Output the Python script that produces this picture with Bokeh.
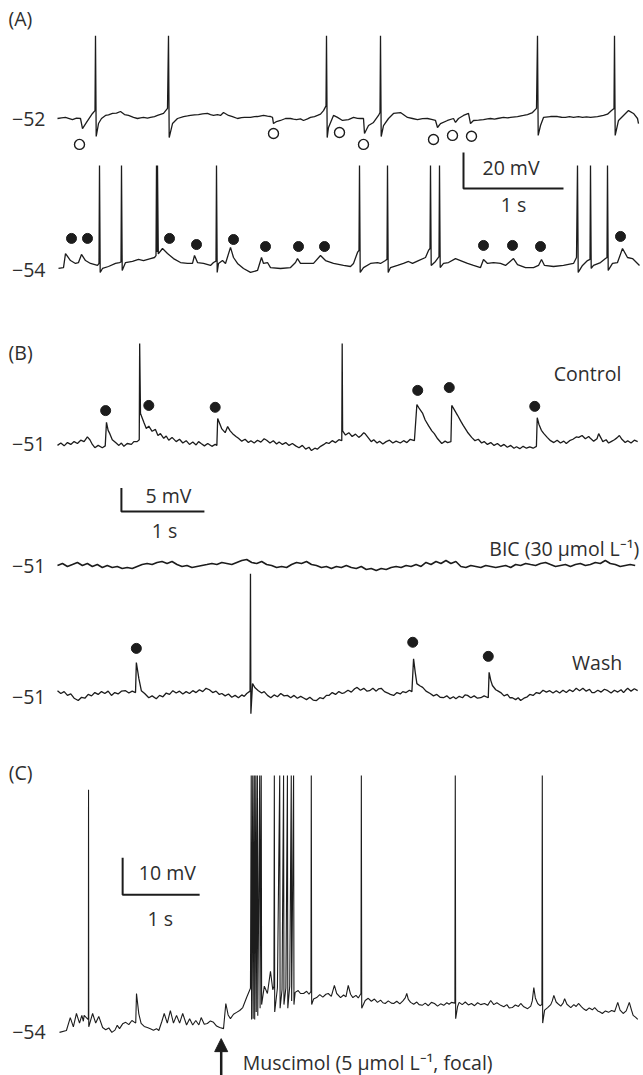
import numpy as np
from bokeh.plotting import figure
from bokeh.layouts import column
from bokeh.models import Range1d, Arrow, NormalHead
from bokeh.core.properties import value
from bokeh.embed import file_html
from bokeh.resources import INLINE

# ---------------- DATA (time in s, membrane potential in mV) ----------------
# Panel A, upper cell (resting -52 mV); open circles mark IPSPs
trace_a1 = [(0.00,-52.0),(0.04,-51.6),(0.08,-51.4),(0.11,-51.9),(0.15,-52.6),(0.19,-51.8),(0.23,-52.0),(0.25,-57.6),(0.29,-54.2),(0.35,-49.2),
    (0.375,-47.6),(0.38,-6),(0.387,-62),(0.41,-54.8),(0.44,-52),(0.48,-50.3),(0.51,-50.0),(0.55,-49.2),(0.59,-49.0),(0.63,-48.1),
    (0.67,-49.8),(0.71,-50.3),(0.76,-51.4),(0.80,-52),(0.83,-51.6),(0.86,-51.4),(0.90,-51.8),(0.93,-51.4),(0.97,-50.9),(1.00,-50.3),(1.06,-49.2),
    (1.10,-46.4),(1.11,-6),(1.117,-62.6),(1.15,-54.8),(1.20,-52),(1.26,-50.9),(1.30,-50.6),(1.33,-50.3),(1.37,-50.0),(1.41,-49.8),
    (1.45,-49.4),(1.50,-49.2),(1.53,-49.9),(1.56,-50.3),(1.60,-49.9),(1.63,-50.3),(1.66,-48.7),(1.71,-50.3),(1.75,-51.0),(1.80,-52),(1.84,-51.5),(1.87,-51.4),(1.93,-51.4),
    (1.97,-51.0),(2.00,-50.9),(2.06,-50.3),(2.10,-50.7),(2.13,-50.9),(2.15,-51.4),(2.16,-54.8),(2.19,-53.7),(2.23,-53.1),(2.28,-52),
    (2.33,-52),(2.36,-52.4),(2.39,-52.6),(2.43,-52.2),(2.46,-53.1),(2.50,-52.2),(2.53,-51.4),(2.57,-50.9),(2.60,-50.3),(2.63,-49.6),(2.66,-47.6),(2.685,-45),(2.69,-6),
    (2.697,-62.6),(2.71,-57),(2.76,-50.3),(2.80,-51.4),(2.85,-53.1),(2.91,-52.6),(2.96,-51.4),(3.00,-51.9),(3.03,-52),
    (3.06,-52),(3.07,-60.3),(3.11,-55.9),(3.16,-54.2),(3.21,-50.3),(3.225,-48.7),(3.23,-6),(3.237,-62),
    (3.26,-55.9),(3.31,-52),(3.36,-49.2),(3.43,-48.7),(3.50,-51.4),(3.55,-52.0),(3.60,-52.6),(3.65,-52.1),(3.70,-52),(3.74,-52.5),(3.78,-53.1),
    (3.80,-57),(3.83,-54.8),(3.90,-53.1),(3.96,-52),(3.98,-54.2),(4.01,-52),(4.06,-50.3),(4.11,-49.2),
    (4.13,-54.8),(4.16,-53.1),(4.21,-52.9),(4.26,-52.6),(4.30,-52.2),(4.33,-52),(4.37,-52.3),(4.40,-52),(4.46,-51.4),(4.50,-51.7),(4.53,-51.4),(4.60,-50.9),
    (4.66,-50.3),(4.70,-49.8),(4.75,-48.7),(4.79,-46.4),(4.80,-6),(4.807,-61.4),(4.83,-55.9),(4.86,-51.4),(4.93,-50.9),
    (5.00,-50.9),(5.04,-51.3),(5.08,-51.4),(5.12,-51.0),(5.16,-51.4),(5.21,-51.0),(5.25,-51.4),(5.29,-51.1),(5.33,-51.4),(5.40,-50.9),(5.46,-50.3),(5.50,-49.6),(5.54,-47.6),
    (5.565,-46.4),(5.57,-6),(5.577,-61.4),(5.61,-53.1),(5.66,-50.3),(5.71,-47.6),(5.76,-49.2),(5.80,-52),
    (5.81,-54.8)]
ipsp_t = [0.22, 2.16, 2.82, 3.06, 3.76, 3.95, 4.14]
ipsp_v = [-66.4, -60.3, -59.8, -66.4, -63.7, -61.4, -61.9]

# Panel A, lower cell (resting -54 mV); filled dots mark EPSPs
trace_a2 = [(0.01,-55.1),(0.06,-54.6),(0.08,-46.8),(0.13,-50.7),(0.18,-52.3),(0.21,-51.8),(0.24,-47.3),
    (0.28,-50.7),(0.33,-52.3),(0.40,-53.4),(0.415,-52.3),(0.42,2.1),(0.427,-57.3),(0.45,-55.1),(0.51,-54),
    (0.58,-52.3),(0.62,-51.8),(0.635,-51.5),(0.64,2.1),(0.647,-56.2),(0.68,-51.8),(0.75,-51.2),(0.81,-50.1),
    (0.86,-50.7),(0.93,-49.6),(0.97,-49),(0.985,-48),(0.99,2.1),(0.995,-46),(1.00,2.1),(1.008,-47),
    (1.05,-44),(1.10,-46.8),(1.16,-49.6),(1.23,-51.8),(1.30,-52.3),(1.35,-52.3),(1.37,-47.9),(1.40,-51.8),
    (1.46,-52.3),(1.53,-53.4),(1.56,-51.8),(1.585,-51),(1.59,2.1),(1.597,-57.3),(1.61,-52.3),(1.65,-50.7),
    (1.68,-52.3),(1.73,-43.4),(1.76,-49),(1.80,-52.3),(1.86,-55.1),(1.93,-57.3),(2.00,-56.2),(2.04,-49),
    (2.06,-52.3),(2.10,-51.8),(2.13,-54.6),(2.23,-55.1),(2.33,-54.6),(2.38,-51.8),(2.40,-49.6),(2.43,-52.3),
    (2.50,-52.3),(2.56,-52.3),(2.63,-47.9),(2.68,-50.7),(2.76,-52.3),(2.86,-53.4),(2.93,-54),(2.96,-52.3),
    (3.00,-46.2),(3.015,-45),(3.02,2.1),(3.027,-57.3),(3.06,-54.6),(3.13,-52.3),(3.20,-51.8),(3.23,-52.3),
    (3.28,-50.7),(3.295,-50),(3.30,2.1),(3.307,-57.3),(3.33,-54.6),(3.40,-53.4),(3.46,-52.3),(3.51,-51.2),
    (3.55,-52.3),(3.61,-50.7),(3.68,-49),(3.71,-45.1),(3.725,-44),(3.73,2.1),(3.737,-53.4),(3.78,-51.2),
    (3.80,-49.6),(3.815,-48.5),(3.82,2.1),(3.827,-54.6),(3.86,-52.3),(3.91,-51.8),(3.98,-49.6),(4.03,-50.7),
    (4.10,-52.3),(4.16,-53.4),(4.23,-54.6),(4.26,-50.1),(4.30,-52.3),(4.36,-51.8),(4.43,-52.3),(4.48,-53.4),
    (4.56,-49.6),(4.60,-52.9),(4.68,-54.6),(4.76,-54.6),(4.81,-53.4),(4.84,-50.1),(4.87,-53.4),(4.96,-54),
    (5.06,-53.4),(5.16,-52.3),(5.19,-49),(5.20,2.1),(5.207,-57.3),(5.25,-53.4),(5.30,-50.7),(5.325,-50),
    (5.33,2.1),(5.337,-55.1),(5.36,-53.4),(5.43,-51.8),(5.48,-49.6),(5.495,-49),(5.50,2.1),(5.507,-56.2),
    (5.55,-52.3),(5.60,-51.8),(5.65,-44),(5.70,-49),(5.75,-49.6),(5.80,-52.3),(5.82,-53.4)]
epsp_a_t = [0.14, 0.30, 1.12, 1.39, 1.76, 2.08, 2.41, 2.67, 4.26, 4.55, 4.83, 5.63]
epsp_a_v = [-38.4, -38.4, -38.4, -41.8, -39.0, -42.9, -42.9, -42.9, -42.3, -42.3, -42.9, -37.3]

# Panel B: control, bicuculline, wash (resting -51 mV)
trace_ctrl = [(0,-51.4),(0.04,-50.9),(0.08,-51.5),(0.12,-50.8),(0.16,-51.2),(0.20,-50.6),(0.24,-51.0),(0.28,-50.3),
    (0.32,-50.6),(0.36,-49.6),(0.39,-50.2),(0.42,-51.2),(0.45,-51.9),(0.49,-51.4),(0.54,-51.9),
    (0.575,-51.5),(0.59,-46.5),(0.61,-48.2),(0.63,-48.9),(0.66,-50.2),(0.70,-50.8),(0.74,-51.4),(0.77,-50.9),
    (0.80,-51.6),(0.84,-51.0),(0.89,-51.2),(0.92,-50.6),(0.96,-50.6),(0.985,-50.2),(0.99,-29.7),(1.00,-44.6),
    (1.04,-46.5),(1.07,-47.8),(1.10,-47.3),(1.14,-48.4),(1.18,-48.0),(1.21,-49.3),(1.24,-48.9),(1.28,-49.9),
    (1.31,-49.4),(1.34,-50.3),(1.38,-49.7),(1.43,-50.6),(1.47,-50.1),(1.51,-50.9),(1.55,-50.4),(1.59,-51.2),
    (1.63,-50.7),(1.67,-51.3),(1.70,-50.6),(1.73,-51.0),(1.77,-51.5),(1.81,-51.0),(1.86,-51.6),(1.90,-51.2),
    (1.92,-51.4),(1.93,-45.7),(1.96,-47.0),(1.98,-47.9),(2.02,-48.7),(2.05,-47.4),(2.08,-48.3),(2.11,-48.9),
    (2.15,-49.5),(2.18,-49.9),(2.22,-50.5),(2.26,-50.1),(2.30,-50.8),(2.33,-50.4),(2.37,-50.9),(2.41,-50.3),
    (2.45,-50.7),(2.49,-50.0),(2.52,-50.3),(2.56,-50.9),(2.60,-50.4),(2.64,-51.1),(2.67,-50.7),(2.71,-51.2),
    (2.75,-50.8),(2.79,-51.4),(2.83,-51.0),(2.87,-51.5),(2.91,-51.9),(2.95,-51.4),(2.99,-52.2),(3.03,-51.8),
    (3.06,-52.5),(3.10,-52.0),(3.13,-52.2),(3.17,-51.6),(3.21,-51.2),(3.24,-50.8),(3.27,-51.0),(3.31,-50.4),
    (3.35,-50.8),(3.39,-50.2),(3.425,-50.4),(3.43,-29.7),(3.435,-48.3),(3.47,-49.2),(3.51,-48.7),(3.55,-49.5),
    (3.59,-49.0),(3.63,-49.7),(3.66,-49.3),(3.69,-48.7),(3.71,-49.0),(3.75,-49.9),(3.78,-50.6),(3.81,-50.2),
    (3.85,-50.9),(3.88,-50.5),(3.92,-51.1),(3.96,-50.6),(4.00,-50.3),(4.04,-50.9),(4.08,-50.5),(4.13,-50.9),
    (4.17,-50.4),(4.21,-50.8),(4.25,-50.1),(4.30,-50.4),(4.33,-42.7),(4.36,-43.6),(4.40,-44.6),(4.43,-46.0),
    (4.47,-47.2),(4.51,-48.3),(4.54,-48.9),(4.58,-50.0),(4.63,-51.0),(4.67,-50.5),(4.70,-50.8),(4.74,-50.6),
    (4.75,-42.9),(4.78,-43.8),(4.82,-45),(4.86,-46.3),(4.89,-47.2),(4.94,-48.6),(4.99,-49.7),(5.03,-50.4),
    (5.07,-50.1),(5.11,-50.9),(5.14,-50.6),(5.18,-51.2),(5.22,-50.8),(5.26,-51.4),(5.30,-51.0),(5.34,-51.6),
    (5.38,-51.2),(5.42,-51.8),(5.46,-51.4),(5.50,-52.0),(5.53,-51.7),(5.57,-52.1),(5.61,-51.6),(5.65,-52.0),
    (5.69,-51.7),(5.73,-52.0),(5.77,-51.6),(5.78,-45.5),(5.80,-46.9),(5.83,-48.2),(5.86,-48.9),(5.90,-49.7),
    (5.94,-50.4),(5.98,-50.8),(6.02,-50.3),(6.06,-50.9),(6.10,-50.5),(6.13,-51),(6.17,-50.4),(6.21,-50.1),
    (6.25,-49.6),(6.28,-49.7),(6.32,-49.3),(6.36,-50.0),(6.40,-49.5),(6.42,-49.9),(6.46,-50.5),(6.50,-50.0),
    (6.52,-48.9),(6.55,-49.9),(6.57,-50.6),(6.61,-50.2),(6.64,-50.9),(6.67,-50.6),(6.71,-50.2),(6.74,-49.8),
    (6.77,-49.3),(6.80,-50.1),(6.84,-50.8),(6.87,-50.4),(6.91,-50.9),(6.95,-50.3),(6.99,-50.6)]
epsp_ctrl_t = [0.58, 1.10, 1.90, 4.34, 4.72, 5.75]
epsp_ctrl_v = [-44.0, -42.9, -43.3, -39.7, -39.1, -43.1]

bic_dt = 0.06
bic_v = [-51.0,-50.57,-51.21,-50.79,-50.36,-51.0,-50.57,-51.21,-50.79,-51.43,
    -51.0,-51.43,-51.21,-51.64,-51.43,-51.64,-51.21,-50.79,-50.57,-50.79,
    -50.36,-50.15,-50.57,-50.15,-50.79,-51.21,-51.0,-51.43,-51.21,-51.0,
    -50.79,-50.57,-50.79,-50.36,-50.57,-50.79,-50.36,-49.94,-49.72,-50.36,
    -50.57,-50.15,-50.79,-51.0,-51.43,-51.21,-51.43,-50.79,-50.36,-50.57,
    -50.15,-50.79,-51.0,-51.43,-51.21,-51.64,-51.21,-51.43,-51.0,-51.43,
    -51.64,-51.21,-51.85,-51.64,-52.06,-51.64,-51.85,-51.43,-51.21,-51.43,
    -51.0,-51.21,-50.79,-51.21,-50.36,-50.79,-50.15,-50.57,-49.94,-50.57,
    -50.15,-51.21,-51.43,-51.0,-51.21,-51.43,-51.0,-51.21,-51.43,-51.21,
    -51.0,-51.43,-50.79,-51.0,-50.57,-50.79,-51.0,-50.57,-50.36,-50.79,
    -51.21,-51.0,-50.79,-51.21,-50.79,-50.57,-51.0,-50.79,-50.36,-50.57,
    -49.94,-50.57,-50.79,-51.21,-51.0,-50.79,-51.0]

trace_wash = [(0,-50.4),(0.04,-51.0),(0.08,-50.6),(0.12,-51.4),(0.16,-51.1),(0.20,-52.0),(0.25,-52.5),(0.29,-51.8),
    (0.33,-52.0),(0.37,-51.2),(0.41,-51.5),(0.45,-50.8),(0.49,-51.2),(0.53,-50.6),(0.57,-51.0),(0.61,-50.5),
    (0.65,-51.4),(0.69,-50.8),(0.73,-51.1),(0.77,-50.5),(0.82,-50.4),(0.86,-50.9),(0.90,-50.5),(0.94,-50.8),
    (0.95,-44.4),(0.98,-47.8),(1.01,-50.4),(1.05,-51.0),(1.10,-51.9),(1.14,-51.5),(1.19,-52.1),(1.23,-51.4),
    (1.27,-51.7),(1.31,-50.9),(1.35,-51.2),(1.39,-50.4),(1.43,-50.9),(1.47,-50.5),(1.51,-51.1),(1.55,-50.6),
    (1.59,-51),(1.63,-50.4),(1.67,-50.8),(1.71,-50.2),(1.75,-50.6),(1.79,-49.9),(1.83,-50.2),(1.87,-50.8),
    (1.91,-50.5),(1.95,-51.2),(1.98,-51),(2.02,-51.5),(2.06,-51.1),(2.10,-51.8),(2.14,-51.4),(2.18,-51.9),
    (2.22,-51.3),(2.25,-51.6),(2.28,-51),(2.32,-50.5),(2.325,-25.5),(2.33,-55.3),(2.35,-48.9),(2.38,-49.8),
    (2.42,-50.4),(2.46,-50.9),(2.49,-50.6),(2.53,-51.4),(2.57,-51.9),(2.61,-51.3),(2.65,-51.7),(2.69,-51.0),
    (2.73,-51.5),(2.77,-51.4),(2.81,-51.9),(2.85,-51.4),(2.89,-52.0),(2.93,-51.6),(2.96,-51.9),(3.00,-52.3),
    (3.04,-51.8),(3.08,-52.4),(3.12,-52.5),(3.16,-51.9),(3.20,-52.1),(3.24,-51.4),(3.27,-51.4),(3.31,-50.8),
    (3.35,-51.2),(3.39,-50.6),(3.43,-51.0),(3.46,-50.8),(3.50,-50.3),(3.54,-50.7),(3.58,-50.0),(3.61,-49.7),
    (3.65,-50.3),(3.69,-49.9),(3.73,-50.5),(3.76,-50.4),(3.80,-49.9),(3.84,-50.5),(3.87,-50.0),(3.90,-49.9),
    (3.94,-50.6),(3.98,-50.9),(4.01,-51.2),(4.05,-51.4),(4.09,-50.8),(4.13,-51.1),(4.16,-50.6),(4.20,-50.8),
    (4.24,-50.3),(4.27,-50.6),(4.29,-43.6),(4.31,-46.5),(4.33,-48.9),(4.37,-49.4),(4.40,-49.7),(4.44,-50.5),
    (4.49,-51),(4.53,-51.5),(4.57,-51.2),(4.61,-51.8),(4.65,-51.9),(4.69,-51.5),(4.73,-52.1),(4.77,-51.7),
    (4.80,-52.1),(4.84,-51.6),(4.88,-51.9),(4.91,-51.3),(4.94,-51.4),(4.98,-51.9),(5.02,-51.5),(5.06,-52.0),
    (5.10,-51.9),(5.14,-51.5),(5.19,-51.9),(5.20,-46.5),(5.22,-48.2),(5.24,-49.3),(5.28,-50.2),(5.31,-50.5),
    (5.34,-50.8),(5.38,-51.5),(5.42,-51.2),(5.45,-51.9),(5.48,-51.9),(5.52,-52.3),(5.55,-51.9),(5.58,-52.5),
    (5.62,-52.0),(5.66,-51.7),(5.69,-51.2),(5.73,-51.4),(5.77,-50.8),(5.81,-51.0),(5.85,-50.3),(5.89,-50.7),
    (5.93,-50.4),(5.97,-50.9),(6.01,-50.4),(6.05,-50.9),(6.09,-50.3),(6.13,-50.8),(6.17,-50.2),(6.21,-50.6),
    (6.25,-49.9),(6.29,-50.4),(6.33,-49.9),(6.37,-50.5),(6.41,-50.1),(6.44,-50.8),(6.47,-50.8),(6.51,-50.3),
    (6.55,-50.7),(6.59,-50.1),(6.63,-50.4),(6.67,-50.9),(6.71,-50.3),(6.75,-50.7),(6.79,-50.2),(6.82,-50.8),
    (6.85,-50.2),(6.87,-49.9),(6.91,-50.5),(6.95,-50.0),(6.99,-50.4)]
epsp_wash_t = [0.95, 4.28, 5.19]
epsp_wash_v = [-41.4, -40.1, -43.1]

# Panel C: focal muscimol (resting -54 mV)
trace_c = [(0,-54.5),(0.09,-54),(0.14,-50.5),(0.18,-53),(0.22,-49.4),(0.26,-52),(0.29,-49.9),(0.31,-51.5),
    (0.32,-49.9),(0.37,-51),(0.375,-50.5),(0.377,11.1),(0.38,-53),(0.43,-49.4),(0.47,-52),(0.51,-50.2),
    (0.56,-53.2),(0.60,-53.8),(0.64,-53.3),(0.68,-54.5),(0.72,-53.9),(0.75,-52.6),(0.78,-53.5),(0.82,-52.2),(0.86,-51.8),(0.90,-52.4),(0.94,-51.3),(0.99,-52),(1.00,-44),(1.03,-49.5),(1.06,-52.1),
    (1.10,-52.9),(1.14,-53.2),(1.18,-53.5),(1.22,-53.9),(1.26,-53.5),(1.29,-54),(1.33,-51.5),(1.36,-49.4),(1.40,-52),(1.44,-48.6),(1.48,-52),(1.52,-49.9),
    (1.56,-52),(1.60,-49.4),(1.65,-52.5),(1.69,-50.8),(1.73,-52.5),(1.77,-51.3),(1.81,-52.5),(1.84,-50.5),
    (1.88,-52.3),(1.92,-52.1),(1.96,-51.4),(2.00,-51.8),(2.04,-52.8),(2.08,-53.2),(2.13,-53.5),(2.16,-46.7),(2.19,-49.8),(2.22,-50.8),(2.26,-49.6),(2.30,-49.1),(2.34,-48.6),(2.38,-47.8),
    (2.43,-45.1),(2.48,-42.6),(2.49,14.9),(2.495,-51),(2.51,14.9),(2.515,-50.8),(2.53,14.9),(2.535,-51),
    (2.55,14.9),(2.555,-49),(2.57,14.9),(2.575,-50),(2.60,14.9),(2.605,-48),(2.62,14.9),(2.625,-47),
    (2.66,-42),(2.70,-44),(2.74,-38),(2.77,-43),(2.785,-42),(2.79,14.9),(2.795,-49),(2.83,-42.5),(2.86,14.9),
    (2.865,-48),(2.89,-43),(2.91,14.9),(2.915,-47),(2.94,-42.5),(2.96,14.9),(2.965,-48),(2.99,-42),
    (3.01,14.9),(3.015,-46),(3.04,14.9),(3.045,-47),(3.06,-43.7),(3.10,-43.2),(3.13,-44.0),(3.17,-44),
    (3.21,-43.4),(3.24,-44.2),(3.265,-43.5),(3.27,14.9),(3.275,-47),(3.30,-45.5),(3.34,-45.1),(3.38,-44.3),
    (3.42,-45.0),(3.46,-44.2),(3.49,-44),(3.53,-44.8),(3.57,-41.8),(3.60,-44.0),(3.65,-45.1),(3.69,-44.4),
    (3.72,-44.9),(3.75,-41.8),(3.78,-44.2),(3.81,-45.1),(3.85,-44.5),(3.88,-45.2),(3.915,-44),(3.92,14.9),
    (3.925,-48),(3.97,-45.9),(4.01,-45.3),(4.05,-46.1),(4.09,-45.5),(4.13,-46.4),(4.17,-45.8),(4.20,-46.5),
    (4.23,-46.7),(4.27,-46.0),(4.31,-46.6),(4.34,-46.7),(4.38,-46.1),(4.42,-46.8),(4.46,-46.0),(4.49,-45.2),
    (4.51,-44),(4.53,-45.6),(4.56,-46.4),(4.60,-46.9),(4.64,-46.3),(4.67,-47.0),(4.71,-47.2),(4.75,-46.6),
    (4.79,-47.3),(4.83,-46.4),(4.87,-46.7),(4.91,-47.4),(4.95,-46.8),(4.99,-47.2),(5.03,-46.5),(5.06,-46.9),
    (5.09,-46.4),(5.135,-46.6),(5.14,14.9),(5.145,-50.8),(5.17,-47.5),(5.19,-46.4),(5.23,-47.0),(5.27,-46.3),
    (5.31,-47.1),(5.35,-46.7),(5.39,-47.3),(5.43,-46.5),(5.47,-47.0),(5.52,-46.7),(5.56,-47.2),(5.60,-45.9),
    (5.64,-47.0),(5.68,-46.5),(5.73,-47.2),(5.77,-47.6),(5.81,-47.0),(5.84,-47.9),(5.88,-47.8),(5.92,-47.1),
    (5.96,-47.5),(5.99,-46.7),(6.03,-47.6),(6.08,-48.1),(6.12,-47.4),(6.14,-46.0),(6.16,-42.4),(6.18,-45.2),
    (6.21,-46.7),(6.24,-47.3),(6.265,-47.0),(6.27,14.9),(6.275,-52),(6.30,-48.5),(6.34,-47.8),(6.38,-47.0),
    (6.40,-46.0),(6.42,-44.5),(6.45,-46.3),(6.47,-46.7),(6.51,-47.4),(6.54,-46.6),(6.56,-45.4),(6.59,-46.9),
    (6.64,-47.8),(6.68,-47.0),(6.71,-47.5),(6.74,-46.7),(6.78,-47.6),(6.81,-48.2),(6.84,-48.6),(6.88,-47.9),
    (6.92,-48.4),(6.95,-47.8),(6.99,-48.7),(7.02,-49.0),(7.05,-49.4),(7.09,-48.7),(7.13,-49.1),(7.17,-48.6),
    (7.21,-48.9),(7.25,-46.4),(7.28,-48.5),(7.32,-49.4),(7.36,-48.7),(7.40,-46.4),(7.43,-48.6),(7.45,-49.9),
    (7.48,-50.4),(7.51,-51)]
muscimol_t = 2.10

# Baseline labels and scale bars
rest_labels = ["\u221252", "\u221254", "\u221251", "\u221251", "\u221251", "\u221254"]
bar_mV = [20, 5, 10]
bar_s = [1, 1, 1]

# ---------------- STYLE / LAYOUT ----------------
FONT = "Open Sans"
FS = "19.5px"
TXT = "#2e2e2e"
TRACE = "#1c1c1c"
W = 643

def make_fig(px_s, t0_px, px_mV, v_ref, ref_px, top_px, bot_px):
    # page coordinates: t0_px = page x of t=0; ref_px = page y of v_ref
    x0 = (0 - t0_px) / px_s
    x1 = (W - t0_px) / px_s
    y1 = v_ref + (ref_px - top_px) / px_mV
    y0 = v_ref - (bot_px - ref_px) / px_mV
    p = figure(width=W, height=bot_px - top_px, x_range=Range1d(x0, x1), y_range=Range1d(y0, y1),
               x_axis_type=None, y_axis_type=None, output_backend="svg", toolbar_location=None,
               min_border=0, outline_line_color=None, background_fill_color="white",
               border_fill_color="white")
    p.grid.visible = False
    return p

def txt(p, x, y, s, align="left", size=FS):
    p.text(x=[x], y=[y], text=[s], text_font=value(FONT), text_font_size=size,
           text_align=align, text_baseline="middle", text_color=TXT)

def trace(p, pts, off=0.0, lw=1.3):
    p.line([a for a, b in pts], [b + off for a, b in pts], line_color=TRACE, line_width=lw)

def scalebar(p, t0, vb, mv, s):
    p.line([t0, t0, t0 + s], [vb + mv, vb, vb], line_color=TRACE, line_width=2)

# ---------- Panel A ----------
pA = make_fig(100, 57, 1.8, -52, 118, 0, 305)
offA2 = (-52 - (266 - 118) / 1.8) + 54
trace(pA, trace_a1)
trace(pA, trace_a2, offA2)
pA.scatter(ipsp_t, ipsp_v, marker="circle", size=10, fill_color="white", line_color=TRACE, line_width=1.4)
pA.scatter(epsp_a_t, [v + offA2 for v in epsp_a_v], marker="circle", size=10, fill_color=TRACE, line_color=TRACE)
txt(pA, -0.49, 3.6, "(A)")
txt(pA, -0.12, -52, rest_labels[0], "right")
txt(pA, -0.12, -56.2 + offA2, rest_labels[1], "right")
scalebar(pA, 4.06, -90.9, bar_mV[0], bar_s[0])
txt(pA, 4.25, -79.2, f"{bar_mV[0]} mV")
txt(pA, 4.56, -99.5, f"{bar_s[0]} s", "center")

# ---------- Panel B ----------
pB = make_fig(83, 57, 4.7, -51, 443, 305, 750)
offBIC = -(565 - 443) / 4.7
offW = -(693 - 443) / 4.7
trace(pB, trace_ctrl)
bic_t = np.arange(len(bic_v)) * bic_dt
pB.line(bic_t, np.array(bic_v) + offBIC, line_color=TRACE, line_width=1.6)
trace(pB, trace_wash, offW)
pB.scatter(epsp_ctrl_t, epsp_ctrl_v, marker="circle", size=10, fill_color=TRACE, line_color=TRACE)
pB.scatter(epsp_wash_t, [v + offW for v in epsp_wash_v], marker="circle", size=10, fill_color=TRACE, line_color=TRACE)
txt(pB, -0.59, -31.6, "(B)")
txt(pB, 5.98, -36.1, "Control")
txt(pB, 7.01, -47.38 + offBIC, "BIC (30 \u03bcmol L\u207b\u00b9)", "right")
txt(pB, 6.20, -44.4 + offW, "Wash")
txt(pB, -0.145, -51, rest_labels[2], "right")
txt(pB, -0.145, -51 + offBIC, rest_labels[3], "right")
txt(pB, -0.145, -51.64 + offW, rest_labels[4], "right")
scalebar(pB, 0.77, -65.47, bar_mV[1], bar_s[1])
txt(pB, 1.06, -62.06, f"{bar_mV[1]} mV")
txt(pB, 1.29, -69.5, f"{bar_s[1]} s", "center")

# ---------- Panel C ----------
pC = make_fig(77, 59, 3.7, -54, 1030, 750, 1075)
trace(pC, trace_c, lw=1.1)
txt(pC, -0.66, 15.7, "(C)")
txt(pC, -0.18, -54.5, rest_labels[5], "right")
scalebar(pC, 0.82, -17.3, bar_mV[2], bar_s[2])
txt(pC, 1.03, -11.3, f"{bar_mV[2]} mV")
txt(pC, 1.31, -23.6, f"{bar_s[2]} s", "center")
pC.add_layout(Arrow(end=NormalHead(size=13, fill_color=TRACE, line_color=TRACE, line_width=1),
                    x_start=muscimol_t, y_start=-68, x_end=muscimol_t, y_end=-56.2,
                    line_color=TRACE, line_width=2.5))
txt(pC, 2.38, -62.6, "Muscimol (5 \u03bcmol L\u207b\u00b9, focal)")

layout = column(pA, pB, pC, spacing=0)
open("out.html", "w").write(file_html(layout, INLINE))
